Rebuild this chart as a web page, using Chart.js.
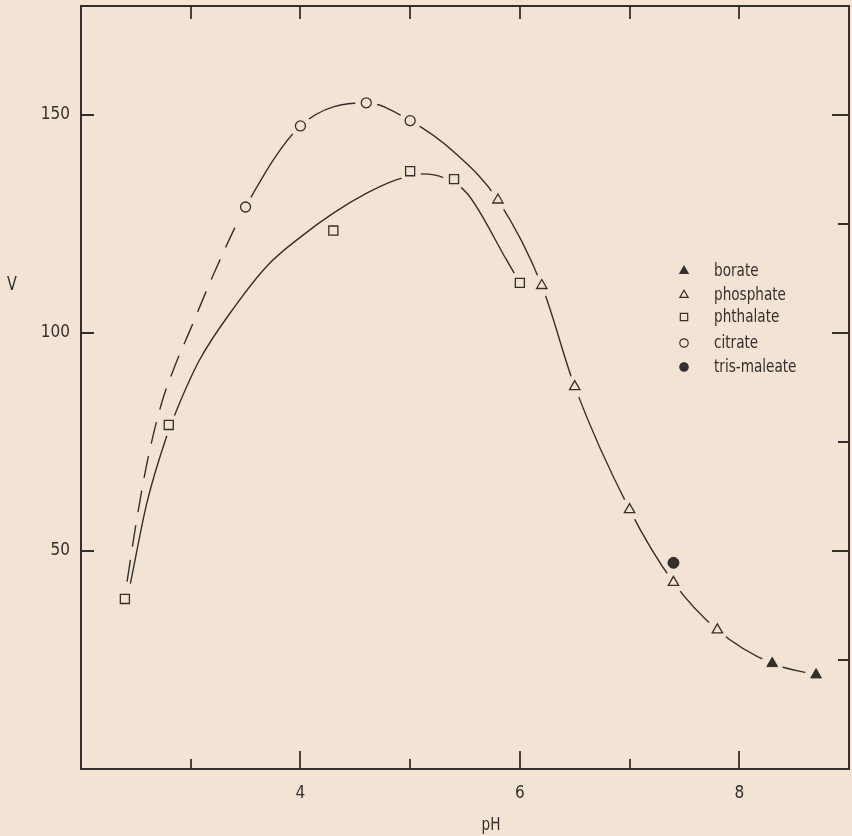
<!DOCTYPE html>
<html>
<head>
<meta charset="utf-8">
<script src="https://cdn.jsdelivr.net/npm/chart.js@4.4.1/dist/chart.umd.min.js"></script>
<style>
  html, body { margin: 0; padding: 0; background: #f2e3d4; }
  #wrap { width: 852px; height: 836px; position: relative; }
</style>
</head>
<body>
<div id="wrap"><canvas id="c" width="852" height="836"></canvas></div>
<script>
// ---------- data ----------
const xTickValues = [2, 3, 4, 5, 6, 7, 8, 9];
const xTickLabels = [4, 6, 8];
const yTickLabels = [50, 100, 150];
const yRightTicks = [25, 50, 75, 100, 125, 150];

const boratePH = [8.3, 8.7];
const borateV  = [24.2, 21.6];

const phosphatePH = [5.8, 6.2, 6.5, 7.0, 7.4, 7.8];
const phosphateV  = [130.5, 110.9, 87.7, 59.5, 42.8, 31.9];

const phthalatePH = [2.4, 2.8, 4.3, 5.0, 5.4, 6.0];
const phthalateV  = [39.0, 78.9, 123.5, 137.1, 135.3, 111.5];

const citratePH = [3.5, 4.0, 4.6, 5.0];
const citrateV  = [128.9, 147.5, 152.8, 148.7];

const trisPH = [7.4];
const trisV  = [47.3];

// hand-drawn fitted curves
const upperCurvePH = [2.42, 2.5, 2.6, 2.73, 2.86, 3.0, 3.2, 3.5, 4.0, 4.6, 5.0, 5.4, 5.8, 6.2, 6.5, 7.0, 7.4, 7.8, 8.3, 8.7];
const upperCurveV  = [43, 56, 70, 83.5, 92.7, 101, 113, 128.9, 147.5, 152.8, 148.7, 141.5, 130.5, 110.9, 87.7, 59.5, 42.8, 31.9, 24.2, 21.6];
const upperDashedUntilPH = 3.5;

const lowerCurvePH = [2.45, 2.6, 2.77, 2.88, 3.08, 3.4, 3.7, 4.0, 4.3, 4.6, 4.86, 5.11, 5.31, 5.52, 5.88, 6.0];
const lowerCurveV  = [42.5, 61, 75.5, 82.8, 93.8, 106, 115.5, 122, 127.5, 132, 135, 136.5, 135.6, 132, 116.7, 111.5];

// ---------- styling ----------
const INK = '#342f2c';
const PAPER = '#f2e3d4';
const FONT = '"Liberation Sans Narrow", "DejaVu Sans Condensed", sans-serif';
const PLOT = { left: 81, top: 6, right: 849, bottom: 769 };

function pts(xs, ys) { return xs.map((x, i) => ({ x: x, y: ys[i] })); }

const haloPoints = [].concat(
  pts(boratePH, borateV), pts(phosphatePH, phosphateV),
  pts(phthalatePH, phthalateV), pts(citratePH, citrateV)
);

const datasets = [
  {
    label: 'upper curve', data: pts(upperCurvePH, upperCurveV), showLine: true,
    borderColor: INK, borderWidth: 1.4, pointRadius: 0, cubicInterpolationMode: 'monotone',
    segment: { borderDash: ctx => (ctx.p1.parsed.x <= upperDashedUntilPH + 1e-9 ? [22, 13] : undefined) },
    order: 10, isCurve: true
  },
  {
    label: 'lower curve', data: pts(lowerCurvePH, lowerCurveV), showLine: true,
    borderColor: INK, borderWidth: 1.4, pointRadius: 0, cubicInterpolationMode: 'monotone',
    order: 10, isCurve: true
  },
  {
    label: 'halo', data: haloPoints, showLine: false, pointRadius: 11,
    pointBackgroundColor: PAPER, pointBorderWidth: 0, pointBorderColor: PAPER,
    order: 5, isCurve: true
  },
  { label: 'borate', data: pts(boratePH, borateV), pointStyle: 'triangle', pointRadius: 6.2,
    pointBackgroundColor: INK, pointBorderColor: INK, pointBorderWidth: 1, order: 1 },
  { label: 'phosphate', data: pts(phosphatePH, phosphateV), pointStyle: 'triangle', pointRadius: 6,
    pointBackgroundColor: PAPER, pointBorderColor: INK, pointBorderWidth: 1.3, order: 1 },
  { label: 'phthalate', data: pts(phthalatePH, phthalateV), pointStyle: 'rect', pointRadius: 6.4,
    pointBackgroundColor: PAPER, pointBorderColor: INK, pointBorderWidth: 1.3, order: 1 },
  { label: 'citrate', data: pts(citratePH, citrateV), pointStyle: 'circle', pointRadius: 5,
    pointBackgroundColor: PAPER, pointBorderColor: INK, pointBorderWidth: 1.3, order: 1 },
  { label: 'tris-maleate', data: pts(trisPH, trisV), pointStyle: 'circle', pointRadius: 5.5,
    pointBackgroundColor: INK, pointBorderColor: INK, pointBorderWidth: 1, order: 1 }
];

const legendRowsY = [271, 295, 317, 343, 367];

function condensedText(c, text, x, y, size, align) {
  c.save();
  c.font = size + 'px ' + FONT;
  c.textBaseline = 'middle';
  c.textAlign = align;
  c.translate(x, y);
  c.scale(0.84, 1);
  c.fillText(text, 0, 0);
  c.restore();
}

const decor = {
  id: 'decor',
  beforeDraw(chart) {
    const c = chart.ctx;
    c.save(); c.fillStyle = PAPER; c.fillRect(0, 0, chart.width, chart.height); c.restore();
  },
  afterDatasetsDraw(chart) {
    const c = chart.ctx, a = chart.chartArea, xs = chart.scales.x, ys = chart.scales.y;
    c.save();
    c.strokeStyle = INK; c.lineWidth = 2;
    c.strokeRect(a.left, a.top, a.right - a.left, a.bottom - a.top);
    c.lineWidth = 1.8;
    c.beginPath();
    xTickValues.forEach(v => {
      if (v <= xs.min || v >= xs.max) return;
      const px = Math.round(xs.getPixelForValue(v));
      const lb = (v % 2 === 0) ? 18 : 10;
      c.moveTo(px, a.bottom); c.lineTo(px, a.bottom - lb);
      c.moveTo(px, a.top); c.lineTo(px, a.top + 13);
    });
    yTickLabels.forEach(v => {
      const py = Math.round(ys.getPixelForValue(v));
      c.moveTo(a.left, py); c.lineTo(a.left + 13, py);
    });
    yRightTicks.forEach(v => {
      const py = Math.round(ys.getPixelForValue(v));
      const l = (v % 50 === 0) ? 17 : 11;
      c.moveTo(a.right, py); c.lineTo(a.right - l, py);
    });
    c.stroke();

    c.fillStyle = INK;
    // axis titles
    condensedText(c, 'V', 12, 285, 19, 'center');
    condensedText(c, 'pH', 491, 825, 18, 'center');

    // legend
    const H = Chart.helpers;
    const entries = chart.data.datasets.filter(d => !d.isCurve);
    entries.forEach((d, i) => {
      const y = legendRowsY[i];
      c.fillStyle = d.pointBackgroundColor;
      c.strokeStyle = d.pointBorderColor;
      c.lineWidth = 1.2;
      const r = d.pointStyle === 'rect' ? 5.2 : (d.pointStyle === 'triangle' ? 4.8 : 4.2);
      if (H && H.drawPoint) {
        H.drawPoint(c, { pointStyle: d.pointStyle, radius: r, rotation: 0, borderWidth: 1.2 }, 684, y);
      }
      c.fillStyle = INK;
      condensedText(c, d.label, 714, y, 18, 'left');
    });
    c.restore();
  }
};

new Chart(document.getElementById('c'), {
  type: 'scatter',
  data: { datasets: datasets },
  options: {
    responsive: false, animation: false, events: [],
    layout: { autoPadding: false, padding: { top: PLOT.top, right: 852 - PLOT.right, left: 0, bottom: 0 } },
    plugins: { legend: { display: false }, tooltip: { enabled: false } },
    scales: {
      x: {
        type: 'linear', min: 2, max: 9,
        ticks: { stepSize: 1, autoSkip: false, maxRotation: 0, padding: 14, color: INK,
                 font: { family: FONT, size: 17 },
                 callback: v => (xTickLabels.includes(v) ? String(v) : null) },
        grid: { display: false, drawTicks: false },
        border: { display: false },
        title: { display: false },
        afterFit(s) { s.height = 836 - PLOT.bottom; s.paddingLeft = 0; s.paddingRight = 0; }
      },
      y: {
        type: 'linear', min: 0, max: 175,
        ticks: { stepSize: 25, autoSkip: false, padding: 11, color: INK,
                 font: { family: FONT, size: 17 },
                 callback: v => (yTickLabels.includes(v) ? String(v) : null) },
        grid: { display: false, drawTicks: false },
        border: { display: false },
        afterFit(s) { s.width = PLOT.left; s.paddingTop = 0; s.paddingBottom = 0; }
      }
    }
  },
  plugins: [decor]
});
</script>
</body>
</html>
